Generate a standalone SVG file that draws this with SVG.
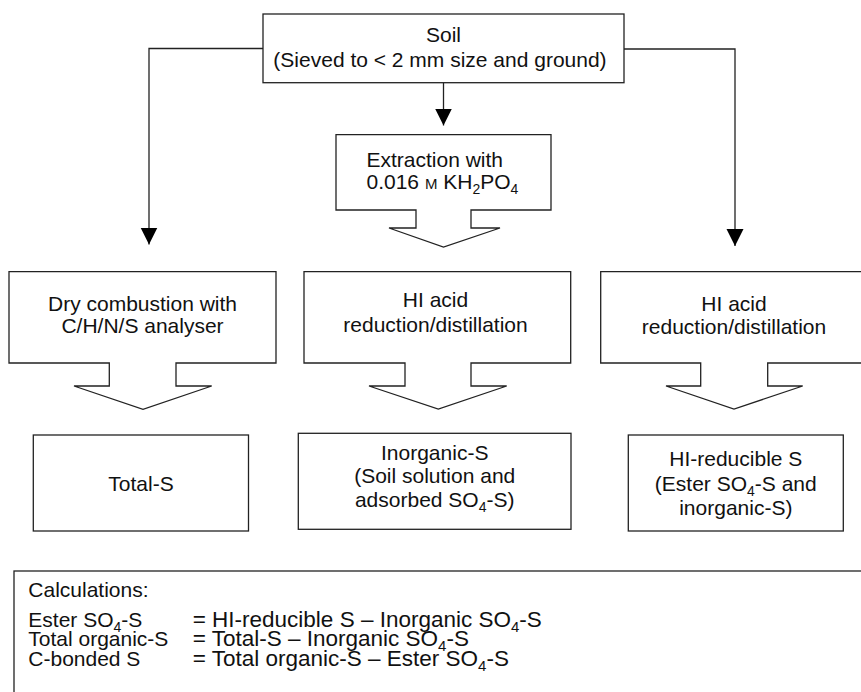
<svg xmlns="http://www.w3.org/2000/svg" width="861" height="692" viewBox="0 0 861 692">
<defs>
<marker id="ah" markerUnits="userSpaceOnUse" markerWidth="18" markerHeight="18" refX="17" refY="8.5" orient="auto">
<path d="M0,0 L17,8.5 L0,17 z" fill="#000"/>
</marker>
<style>
.box{fill:#fff;stroke:#222;stroke-width:1.3}
.ln{fill:none;stroke:#222;stroke-width:1.3}
text{font-family:"Liberation Sans",Arial,sans-serif;font-size:21px;fill:#111}
.c{text-anchor:middle}
.sub{font-size:14px}
.sc{font-size:15px}
.eq{font-size:22.5px}
.eq .sub{font-size:15px}
</style>
</defs>
<rect width="861" height="692" fill="#fff"/>

<g id="connectors">
<polyline class="ln" points="263,48.5 149,48.5 149,244.5" marker-end="url(#ah)"/>
<polyline class="ln" points="443.5,82.7 443.5,125.5" marker-end="url(#ah)"/>
<polyline class="ln" points="624,49 735,49 735,246" marker-end="url(#ah)"/>
</g>

<g id="soil">
<rect class="box" x="263" y="14" width="361" height="68.7"/>
<text class="c" x="443.5" y="42.3">Soil</text>
<text class="c" x="440" y="66.7">(Sieved to &lt; 2 mm size and ground)</text>
</g>

<g id="extraction">
<path class="box" d="M336,134.7 H551 V210 H471 V228 H500 L443.5,247 L389,228 H416 V210 H336 Z"/>
<text x="366.5" y="167">Extraction with</text>
<text x="366.5" y="189.3">0.016 <tspan class="sc">M</tspan> KH<tspan class="sub" dy="5">2</tspan><tspan dy="-5">PO</tspan><tspan class="sub" dy="5">4</tspan></text>
</g>

<g id="dry-combustion">
<path class="box" d="M9,271.7 H276 V363 H176 V386 H211.7 L143,409.3 L74,386 H109.3 V363 H9 Z"/>
<text class="c" x="142.5" y="310.5">Dry combustion with</text>
<text class="c" x="142.5" y="333">C/H/N/S analyser</text>
</g>

<g id="hi-acid-middle">
<path class="box" d="M304,271.7 H570.7 V363 H471 V386 H506.7 L438.3,409 L369,386 H405 V363 H304 Z"/>
<text class="c" x="435.5" y="306.7">HI acid</text>
<text class="c" x="435.5" y="331.7">reduction/distillation</text>
</g>

<g id="hi-acid-right">
<path class="box" d="M600.7,271.7 H868 V363 H767.7 V386 H802.7 L734,409 L666,386 H700.7 V363 H600.7 Z"/>
<text class="c" x="734" y="310.5">HI acid</text>
<text class="c" x="734" y="334">reduction/distillation</text>
</g>

<g id="total-s">
<rect class="box" x="33.3" y="435" width="215.2" height="96"/>
<text class="c" x="141" y="491">Total-S</text>
</g>

<g id="inorganic-s">
<rect class="box" x="298.3" y="433.3" width="272.7" height="96"/>
<text class="c" x="434.7" y="459.5">Inorganic-S</text>
<text class="c" x="434.7" y="483">(Soil solution and</text>
<text class="c" x="434.7" y="506.5">adsorbed SO<tspan class="sub" dy="5">4</tspan><tspan dy="-5">-S)</tspan></text>
</g>

<g id="hi-reducible-s">
<rect class="box" x="628.3" y="435" width="215" height="96"/>
<text class="c" x="735.8" y="466">HI-reducible S</text>
<text class="c" x="735.8" y="490.5">(Ester SO<tspan class="sub" dy="5">4</tspan><tspan dy="-5">-S and</tspan></text>
<text class="c" x="735.8" y="515">inorganic-S)</text>
</g>

<g id="calculations">
<rect class="box" x="14" y="571" width="860" height="140"/>
<text x="28.3" y="597">Calculations:</text>
<text x="28.3" y="627">Ester SO<tspan class="sub" dy="5">4</tspan><tspan dy="-5">-S</tspan></text>
<text class="eq" x="192.7" y="627">= HI-reducible S – Inorganic SO<tspan class="sub" dy="5">4</tspan><tspan dy="-5">-S</tspan></text>
<text x="28.3" y="646">Total organic-S</text>
<text class="eq" x="192.7" y="646">= Total-S – Inorganic SO<tspan class="sub" dy="5">4</tspan><tspan dy="-5">-S</tspan></text>
<text x="28.3" y="666">C-bonded S</text>
<text class="eq" x="192.7" y="666">= Total organic-S – Ester SO<tspan class="sub" dy="5">4</tspan><tspan dy="-5">-S</tspan></text>
</g>
</svg>
